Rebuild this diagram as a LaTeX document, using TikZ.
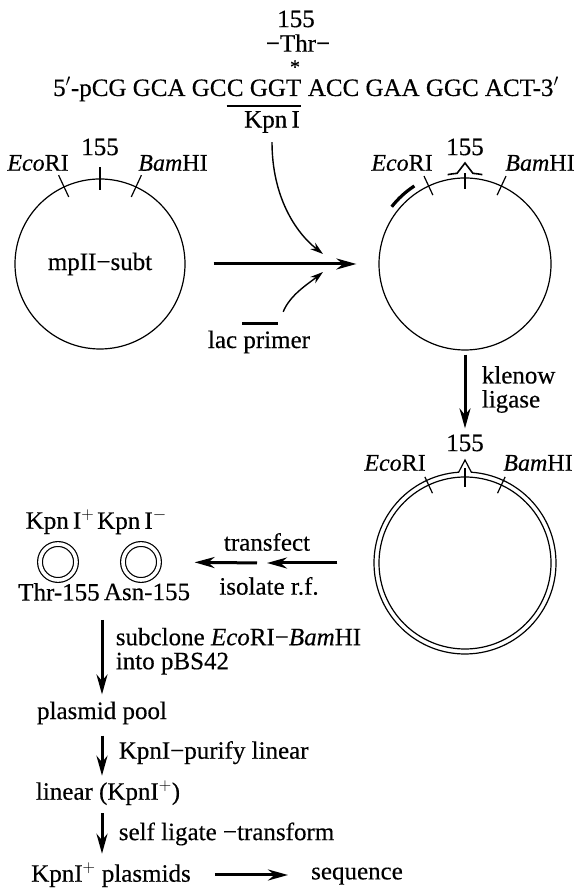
\documentclass[tikz,border=0pt]{standalone}
\usepackage{fontspec}
\setmainfont{Liberation Serif}[FakeBold=0.35]
\usetikzlibrary{arrows.meta, positioning, calc}
\tikzset{
  txt/.style={inner sep=1pt},
  sitelbl/.style={font=\fontsize{24}{24}\selectfont, inner sep=1pt},
  plasmid/.style={circle, draw, line width=1.2pt, inner sep=0pt},
  smallplasmid/.style={circle, draw, double, double distance=3.6pt,
    line width=1.2pt, minimum size=36pt, inner sep=0pt},
  sitetick/.style={line width=1.2pt},
  primer/.style={line width=3.2pt},
  fatarrow/.style={-{Stealth[length=20pt, width=11pt]}, line width=3pt},
  thinarrow/.style={-{Stealth[length=13pt, width=8pt]}, line width=1.4pt},
}

\begin{document}
\begin{tikzpicture}[x=1pt, y=1pt, font=\fontsize{25}{24}\selectfont]
  \useasboundingbox (0,0) rectangle (576,888);

  % oligo with the KpnI site
  \node[txt] (num) at (296,869) {155};
  \node[txt] (thr) at (298,845) {−Thr−};
  \node[txt, font=\fontsize{20}{20}\selectfont] (star) at (295,821) {*};
  \node[inner sep=0pt, anchor=base west] (seqL) at (53,792) {5$'$-pCG GCA GC};
  \node[inner sep=0pt, anchor=base west] (seqK) at (seqL.base east) {C GGT};
  \node[inner sep=0pt, anchor=base west] (seqR) at (seqK.base east) {\ ACC GAA GGC ACT-3$'$};
  \draw[line width=1.3pt] ([yshift=-10pt]seqK.base west) -- ([yshift=-10pt]seqK.base east);
  \node[txt] (kpn) at (272,766) {Kpn\,I};

  % single strand template
  \node[plasmid, minimum size=170pt] (mp) at (100,624) {mpII−subt};
  \draw[sitetick] (mp.center) ++(115:74) -- ++(115:24);
  \draw[sitetick] (mp.center) ++(90:74) -- ++(90:23);
  \draw[sitetick] (mp.center) ++(65:74) -- ++(65:24);
  \node[txt] (mpmid) at ([shift={(0,117)}]mp.center) {155};
  \node[sitelbl] (mpeco) at ([shift={(-62,101)}]mp.center) {\textit{Eco}RI};
  \node[sitelbl] (mpbam) at ([shift={(73,101)}]mp.center) {\textit{Bam}HI};

  % annealed primers
  \node[plasmid, minimum size=172pt] (rf) at (465,624) {};
  \draw[sitetick] (rf.center) ++(115:76) -- ++(115:21);
  \draw[sitetick] (rf.center) ++(90:75) -- ++(90:16);
  \draw[sitetick] (rf.center) ++(65:76) -- ++(65:21);
  \draw[primer] ($(rf.center)+(142:93)$) arc[start angle=142, end angle=123, radius=93];
  \draw[line width=1.6pt] ($(rf.center)+(101:91)$) arc[start angle=101, end angle=95, radius=91]
    -- ($(rf.center)+(0,101)$) -- ($(rf.center)+(85:91)$) arc[start angle=85, end angle=79, radius=91];
  \node[txt] (rfmid) at ([shift={(0,117)}]rf.center) {155};
  \node[sitelbl] (rfeco) at ([shift={(-63,101)}]rf.center) {\textit{Eco}RI};
  \node[sitelbl] (rfbam) at ([shift={(75,101)}]rf.center) {\textit{Bam}HI};

  \node[txt] (lac) at (259,546) {lac primer};
  \node[fill, minimum width=36pt, minimum height=3pt, inner sep=0pt,
    above=4pt of lac, xshift=1pt] (lacbar) {};
  \coordinate (jointop) at (323,634);
  \coordinate (joinbot) at (323,616);

  \draw[fatarrow, shorten <=28pt, shorten >=22pt] (mp) -- (rf);
  \draw[thinarrow, shorten <=8pt] (kpn.south) .. controls +(0,-62) and +(-28,22) .. (jointop);
  \draw[thinarrow] ([shift={(5pt,12pt)}]lacbar.east) .. controls +(7,17) and +(-15,-12) .. (joinbot);

  % double strand
  \node[plasmid, minimum size=172pt] (dbl) at (465,325) {};
  \draw[line width=1.2pt] ($(dbl.center)+(94:91)$) arc[start angle=94, end angle=446, radius=91]
    -- ($(dbl.center)+(0,103)$) -- cycle;
  \draw[sitetick] (dbl.center) ++(115:77) -- ++(115:18);
  \draw[sitetick] (dbl.center) ++(90:76) -- ++(90:19);
  \draw[sitetick] (dbl.center) ++(65:77) -- ++(65:18);
  \node[txt] (dblmid) at ([shift={(0,120)}]dbl.center) {155};
  \node[sitelbl] (dbleco) at ([shift={(-70,100)}]dbl.center) {\textit{Eco}RI};
  \node[sitelbl] (dblbam) at ([shift={(73,100)}]dbl.center) {\textit{Bam}HI};

  \draw[fatarrow, shorten <=4pt] (rf.south) -- ([yshift=5pt]dblmid.north)
    node[midway, right=12pt, align=left] {klenow\\ligase};

  % transfection
  \node[smallplasmid] (kp) at (58,326) {};
  \node[smallplasmid] (asn) at (141,326) {};
  \node[txt] (kpl) at (60,366) {Kpn\,I$^{+}$};
  \node[txt] (kml) at (132,366) {Kpn\,I$^{-}$};
  \node[txt] (thrl) at (59,296) {Thr-155};
  \node[txt] (asnl) at (147,296) {Asn-155};

  \coordinate (tf) at (262,325);
  \draw[fatarrow, shorten <=41pt, shorten >=5pt] (dbl.west) -- (tf);
  \draw[fatarrow, shorten <=5pt, shorten >=35pt] (tf) -- (asn.east);
  \node[txt] (tfx) at (267,346) {transfect};
  \node[txt] (iso) at (269,302) {isolate r.f.};

  % screening
  \node[txt] (pool) at (102,175) {plasmid pool};
  \node[txt] (lin) at (108,95) {linear (KpnI$^{+}$)};
  \node[txt] (plas) at (111,13) {KpnI$^{+}$ plasmids};
  \node[txt] (seqn) at (357,12) {sequence};

  \draw[fatarrow, shorten <=18pt, shorten >=6pt] (thrl.south -| pool.north) -- (pool.north)
    node[midway, right=9pt, align=left] {subclone \textit{Eco}RI−\textit{Bam}HI\\into pBS42};
  \draw[fatarrow, shorten <=10pt, shorten >=4pt] (pool.south) -- (pool.south |- lin.north)
    node[midway, right=12pt] {KpnI−purify linear};
  \draw[fatarrow, shorten <=7pt, shorten >=8pt] (lin.south -| pool.south) -- (pool.south |- plas.north)
    node[midway, right=12pt] {self ligate −transform};
  \draw[fatarrow, shorten <=23pt, shorten >=22pt] (plas.east) -- (plas.east -| seqn.west);
\end{tikzpicture}
\end{document}
